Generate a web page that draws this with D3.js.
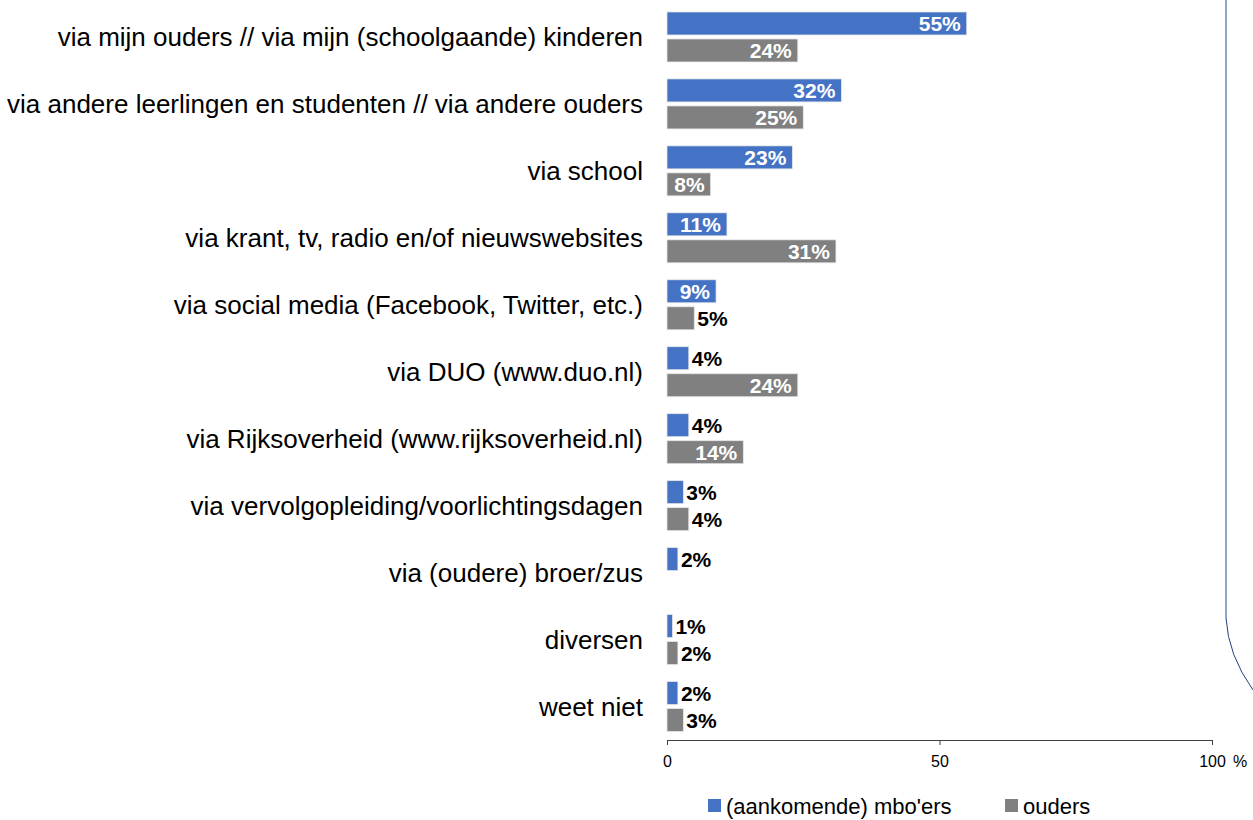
<!doctype html>
<html>
<head>
<meta charset="utf-8">
<style>
    body { margin: 0; background: #fff; }
    svg { font-family: "Liberation Sans", Arial, sans-serif; }
</style>
<script src="https://cdn.jsdelivr.net/npm/d3@7"></script>
</head>
<body>
<svg width="1253" height="820"></svg>
<script>

    // data
    var categories = [
        "via mijn ouders // via mijn (schoolgaande) kinderen",
        "via andere leerlingen en studenten // via andere ouders",
        "via school",
        "via krant, tv, radio en/of nieuwswebsites",
        "via social media (Facebook, Twitter, etc.)",
        "via DUO (www.duo.nl)",
        "via Rijksoverheid (www.rijksoverheid.nl)",
        "via vervolgopleiding/voorlichtingsdagen",
        "via (oudere) broer/zus",
        "diversen",
        "weet niet"
    ];
    var mboers = [55, 32, 23, 11, 9, 4, 4, 3, 2, 1, 2];
    var ouders = [24, 25, 8, 31, 5, 24, 14, 4, null, 2, 3];
    var seriesNames = ["(aankomende) mbo'ers", "ouders"];
    var xTicks = [0, 50, 100];

    var colors = ["#4472C4", "#808080"];

    var svg = d3.select("svg");

    var x = d3.scaleLinear().domain([0, 100]).range([667, 1212]);
    var y = d3.scaleBand().domain(categories).range([3.5, 740]);

    var barH = 23, gap = 4;
    var offset = (y.bandwidth() - (barH * 2 + gap)) / 2;

    // category labels
    svg.append("g").selectAll("text")
        .data(categories)
        .enter().append("text")
        .attr("x", 643)
        .attr("y", function(d) { return y(d) + y.bandwidth() / 2; })
        .attr("dy", "0.35em")
        .attr("text-anchor", "end")
        .attr("font-size", "26px")
        .attr("fill", "#000")
        .text(function(d) { return d; });

    // flatten into bars
    var bars = [];
    categories.forEach(function(c, i) {
        [mboers[i], ouders[i]].forEach(function(v, s) {
            if (v == null) return;
            bars.push({ cat: c, s: s, v: v });
        });
    });

    var g = svg.append("g");
    g.selectAll("rect")
        .data(bars)
        .enter().append("rect")
        .attr("x", x(0))
        .attr("y", function(d) { return y(d.cat) + offset + d.s * (barH + gap); })
        .attr("width", function(d) { return x(d.v) - x(0); })
        .attr("height", barH)
        .attr("fill", function(d) { return colors[d.s]; })
        .attr("stroke", "#e8e8e8")
        .attr("stroke-width", 0.75);

    // value labels: inside (white) for wide bars, outside (black) for small ones
    g.selectAll("text")
        .data(bars)
        .enter().append("text")
        .attr("x", function(d) { return d.v >= 8 ? x(d.v) - 6 : x(d.v) + 3; })
        .attr("y", function(d) { return y(d.cat) + offset + d.s * (barH + gap) + barH / 2; })
        .attr("dy", "0.36em")
        .attr("text-anchor", function(d) { return d.v >= 8 ? "end" : "start"; })
        .attr("font-size", "21px")
        .attr("font-weight", "bold")
        .attr("fill", function(d) { return d.v >= 8 ? "#fff" : "#000"; })
        .text(function(d) { return d.v + "%"; });

    // x axis
    var axis = svg.append("g")
        .attr("transform", "translate(0,740)")
        .call(d3.axisBottom(x).tickValues(xTicks).tickSize(5).tickSizeOuter(0));
    axis.attr("font-family", null).attr("font-size", null);
    axis.select(".domain").attr("stroke", "#404040");
    axis.selectAll(".tick line").attr("stroke", "#404040");
    axis.selectAll(".tick text")
        .attr("font-size", "16px")
        .attr("fill", "#000")
        .attr("y", 27)
        .attr("dy", null);
    svg.append("text")
        .attr("x", x(100) + 21)
        .attr("y", 767)
        .attr("font-size", "16px")
        .attr("fill", "#000")
        .text("%");

    // legend
    var legendX = [708, 1005];
    var lg = svg.append("g").selectAll("g")
        .data(seriesNames)
        .enter().append("g")
        .attr("transform", function(d, i) { return "translate(" + legendX[i] + ",799)"; });
    lg.append("rect")
        .attr("width", 13).attr("height", 13)
        .attr("fill", function(d, i) { return colors[i]; });
    lg.append("text")
        .attr("x", 18)
        .attr("y", 7)
        .attr("dy", "0.36em")
        .attr("font-size", "22px")
        .attr("fill", "#000")
        .text(function(d) { return d; });

    // decorative frame on the right edge
    svg.append("path")
        .attr("d", "M1226,0 L1226,618")
        .attr("fill", "none")
        .attr("stroke", "#7088b0")
        .attr("stroke-width", 1.5);
    svg.append("path")
        .attr("d", "M1226,618 Q1228,655 1253,690")
        .attr("fill", "none")
        .attr("stroke", "#1f3f7a")
        .attr("stroke-width", 1);

</script>
</body>
</html>
